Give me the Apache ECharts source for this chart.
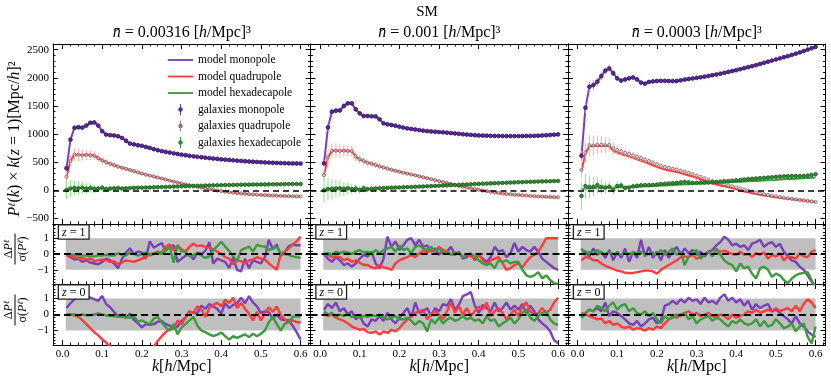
<!DOCTYPE html>
<html>
<head>
<meta charset="utf-8">
<script src="https://cdn.jsdelivr.net/npm/echarts@6/dist/echarts.min.js"></script>
<style>
  html, body { margin: 0; padding: 0; background: #fff; }
  #chart { width: 831px; height: 379px; }
</style>
</head>
<body>
<div id="chart"></div>
<script>
// wavenumber bins
const k = [0.01,0.02,0.03,0.04,0.05,0.06,0.07,0.08,0.09,0.10,
  0.11,0.12,0.13,0.14,0.15,0.16,0.17,0.18,0.19,0.20,
  0.21,0.22,0.23,0.24,0.25,0.26,0.27,0.28,0.29,0.30,
  0.31,0.32,0.33,0.34,0.35,0.36,0.37,0.38,0.39,0.40,
  0.41,0.42,0.43,0.44,0.45,0.46,0.47,0.48,0.49,0.50,
  0.51,0.52,0.53,0.54,0.55,0.56,0.57,0.58,0.59,0.60];

const densities = ['0.00316', '0.001', '0.0003'];
const zLabels = ['1', '0'];
const legendNames = ['model monopole', 'model quadrupole', 'model hexadecapole',
  'galaxies monopole', 'galaxies quadrupole', 'galaxies hexadecapole'];

// tick positions
const kTicks = [0, 0.1, 0.2, 0.3, 0.4, 0.5, 0.6];
const kMinor = [0,0.02,0.04,0.06,0.08,0.1,0.12,0.14,0.16,0.18,0.2,0.22,0.24,0.26,0.28,0.3,
  0.32,0.34,0.36,0.38,0.4,0.42,0.44,0.46,0.48,0.5,0.52,0.54,0.56,0.58,0.6,0.62];
const pTicks = [-500, 0, 500, 1000, 1500, 2000, 2500];
const pMinor = [-600,-500,-400,-300,-200,-100,0,100,200,300,400,500,600,700,800,900,1000,1100,1200,
  1300,1400,1500,1600,1700,1800,1900,2000,2100,2200,2300,2400,2500,2600];
const rTicks = [-1, 0, 1];
const rMinor = [-1.8,-1.6,-1.4,-1.2,-1,-0.8,-0.6,-0.4,-0.2,0,0.2,0.4,0.6,0.8,1,1.2,1.4,1.6,1.8];

// ---- top panels: multipoles times k ----
// n = 0.00316
const monoL = [390,900,1110,1120,1115,1150,1200,1205,1150,1050,
  990,980,975,960,930,880,830,815,800,790,
  770,752,730,712,695,683,670,656,645,633,
  622,612,603,595,587,579,571,564,557,550,
  544,538,532,526,521,516,511,507,503,499,
  495,492,489,486,483,481,479,477,476,475];
const quadL = [240,520,635,630,625,630,625,615,570,530,
  500,470,445,420,400,380,360,340,318,298,
  278,260,243,225,208,190,172,155,137,120,
  105,90,75,60,46,32,18,6,-5,-15,
  -25,-34,-42,-50,-57,-63,-69,-74,-79,-83,
  -87,-91,-94,-97,-100,-103,-105,-107,-109,-111];
const hexL = [5,30,40,35,45,30,40,25,30,45,
  20,30,35,40,30,35,40,42,45,46,
  48,50,52,55,57,60,62,65,67,70,
  72,74,77,79,81,83,85,87,89,90,
  92,93,95,96,98,99,100,101,102,103,
  104,105,106,107,108,109,110,111,111,112];
// n = 0.001
const monoM = [478,1118,1396,1414,1420,1498,1545,1545,1438,1367,
  1320,1320,1315,1313,1261,1190,1172,1160,1148,1130,
  1115,1100,1090,1080,1070,1060,1052,1045,1040,1035,
  1030,1024,1017,1010,1003,996,990,984,979,975,
  972,970,968,966,965,964,963,963,963,963,
  964,965,966,968,970,974,978,983,988,993];
const quadM = [270,585,700,705,700,705,700,695,600,550,
  520,490,470,448,425,405,385,366,348,330,
  312,296,280,265,248,232,215,198,180,162,
  145,128,110,94,78,62,48,34,20,8,
  -4,-16,-28,-38,-48,-57,-65,-72,-78,-84,
  -90,-95,-100,-105,-109,-113,-117,-120,-123,-125];
const hexM = [0,20,25,30,35,25,35,20,30,5,
  35,20,25,30,35,38,42,45,48,50,
  53,56,59,62,65,68,71,74,77,80,
  83,86,90,93,96,100,103,106,110,113,
  116,119,122,125,128,131,134,137,140,143,
  145,148,150,152,155,157,159,161,163,165];
// n = 0.0003
const monoR = [614,1468,1840,1870,1930,2030,2125,2165,2080,1990,
  1950,1970,1990,2005,1970,1915,1895,1925,1935,1942,
  1945,1945,1942,1940,1942,1955,1968,1978,1988,1998,
  2008,2020,2032,2045,2058,2072,2088,2104,2120,2135,
  2152,2170,2188,2206,2225,2245,2265,2285,2305,2325,
  2345,2365,2385,2405,2428,2450,2475,2500,2525,2550];
const quadR = [350,655,785,785,790,785,790,780,700,670,
  645,620,598,572,548,524,500,472,445,415,
  390,370,352,338,325,305,285,263,243,220,
  196,170,142,120,102,85,70,55,38,18,
  -2,-22,-38,-52,-66,-80,-92,-104,-115,-125,
  -134,-143,-151,-159,-167,-175,-183,-191,-200,-210];
const hexR = [15,30,30,35,40,40,45,45,45,50,
  52,55,58,60,63,66,70,73,76,80,
  83,86,90,93,97,100,104,107,111,114,
  118,121,125,128,132,135,139,142,146,149,
  152,156,159,163,166,170,173,177,180,184,
  190,194,198,202,206,210,214,218,222,226];
const quadRGal = [360,665,800,795,805,810,800,805,745,715,
  690,665,645,620,595,570,545,518,490,460,
  435,415,398,382,368,348,328,307,286,263,
  238,212,184,160,140,122,105,88,70,50,
  30,10,-8,-24,-40,-56,-70,-84,-97,-110,
  -121,-132,-143,-153,-162,-171,-180,-189,-198,-208];
const hexRGal = [-100,75,58,62,92,58,47,62,5,75,
  85,40,47,70,78,88,93,92,94,100,
  110,116,121,126,131,140,149,140,132,133,
  135,136,138,145,150,155,160,165,170,175,
  183,192,200,205,210,215,220,226,232,237,
  242,247,250,252,252,252,255,262,272,285];

// error bars on the galaxy multipoles
const errMonoL = [45,50,45,40,38,35,33,30,28,26,24,22,20,19,18,17,16,15,14,13,12,12,11,11,10,10,10,9,9,9,
  9,8,8,8,8,8,7,7,7,7,7,7,7,6,6,6,6,6,6,6,6,6,6,6,6,6,6,6,6,6];
const errQuadL = [80,105,115,110,100,95,88,80,72,65,58,52,47,43,40,37,34,32,30,28,26,25,24,23,22,21,20,19,18,17,
  17,16,16,15,15,14,14,14,13,13,13,12,12,12,12,11,11,11,11,11,10,10,10,10,10,10,10,10,10,10];
const errHexL = [160,150,135,120,105,95,85,76,68,60,54,48,43,39,35,32,30,28,26,24,23,22,21,20,19,18,18,17,17,16,
  16,15,15,15,14,14,14,13,13,13,13,12,12,12,12,12,11,11,11,11,11,11,11,10,10,10,10,10,10,10];
const errMonoM = [60,65,60,55,50,46,42,38,35,32,29,27,25,23,21,20,19,18,17,16,15,15,14,14,13,13,12,12,12,11,
  11,11,11,10,10,10,10,10,10,10,9,9,9,9,9,9,9,9,9,9,9,9,9,9,9,9,9,9,9,9];
const errQuadM = [100,125,135,130,120,110,100,92,84,76,68,62,56,51,47,43,40,37,35,33,31,29,28,27,26,25,24,23,22,21,
  20,20,19,19,18,18,17,17,17,16,16,16,15,15,15,15,14,14,14,14,14,14,14,13,13,13,13,13,13,13];
const errHexM = [220,200,180,160,140,122,106,93,82,72,64,57,51,46,42,38,35,33,31,29,27,26,25,24,23,22,21,20,20,19,
  19,18,18,17,17,17,16,16,16,16,15,15,15,15,15,14,14,14,14,14,14,14,14,14,13,13,13,13,13,13];
const errMonoR = [90,100,95,85,75,68,62,56,51,46,42,38,35,32,30,28,26,25,24,23,22,21,20,20,19,19,18,18,18,17,
  17,17,17,17,17,16,16,16,16,16,16,16,16,16,16,16,16,16,16,16,16,16,16,16,16,16,16,16,16,16];
const errQuadR = [140,175,190,180,165,150,135,120,108,96,86,77,70,64,58,53,49,45,42,39,37,35,33,31,30,29,28,27,26,25,
  24,24,23,23,22,22,21,21,21,20,20,20,20,19,19,19,19,19,18,18,18,18,18,18,18,18,18,18,18,18];
const errHexR = [240,220,195,170,150,130,112,98,86,76,68,61,55,50,46,42,39,36,34,32,30,29,28,27,26,25,24,24,23,23,
  22,22,21,21,21,20,20,20,20,19,19,19,19,19,18,18,18,18,18,18,18,18,18,18,18,18,18,18,18,18];

// ---- residuals  dP / sigma(P) ----
const resL1m = [-0.05,-0.2,-0.35,-0.3,-0.5,-0.4,-0.55,-0.6,-0.65,-0.5,
  -0.3,-0.4,-0.6,-0.9,-0.3,0.1,0.35,0.0,0.15,0.1,
  -0.3,0.8,0.4,0.55,0.7,0.2,0.5,0.55,-0.5,-0.3,
  -0.1,0.0,-0.35,0.1,0.0,0.2,0.75,-0.6,-0.3,-0.4,
  -0.5,-0.9,-0.2,-1.0,-1.1,-0.3,-0.9,-0.4,-0.5,-0.6,
  -0.2,0.9,0.3,0.6,-0.1,0.1,0.5,0.6,0.55,0.55];
const resL1r = [-0.1,-0.1,-0.2,-0.3,-0.25,-0.35,-0.3,-0.45,-0.4,-0.35,
  -0.4,-0.5,-0.45,-0.65,-0.55,-0.4,-0.45,-0.5,-0.4,-0.3,
  -0.2,0.0,0.05,0.15,0.1,0.45,0.6,0.25,0.55,0.3,
  0.15,0.45,0.65,0.5,0.55,0.45,0.4,0.3,0.15,0.0,
  -0.2,-0.3,-0.65,-0.4,-0.45,-0.6,-0.4,-0.35,-0.2,-0.3,
  -0.35,-0.6,-0.8,-1.0,0.0,0.15,0.35,0.6,0.8,1.1];
const resL1g = [0.0,-0.05,-0.05,-0.1,-0.1,-0.1,-0.15,-0.15,-0.1,-0.1,
  -0.05,-0.1,-0.1,0.05,-0.05,-0.1,0.1,0.0,-0.1,0.0,
  0.1,-0.1,0.0,0.1,0.0,0.2,0.47,-0.55,0.55,0.15,
  0.15,-0.15,-0.05,0.05,-0.1,-0.25,-0.15,0.25,0.5,0.78,
  0.47,0.2,-0.15,-0.45,0.25,0.35,0.47,0.15,0.58,0.5,
  0.47,0.25,0.35,0.47,0.05,0.0,-0.05,-0.15,-0.2,-0.25];
const resL0m = [0.4,0.7,0.95,1.1,1.25,1.15,1.05,0.95,0.85,1.15,
  0.65,0.45,0.15,-0.1,0.0,-0.2,0.05,-0.35,-0.55,-0.8,
  -0.6,-0.65,-0.6,-0.45,-0.4,-0.6,-0.7,-0.9,-0.75,-0.4,
  -0.2,0.2,0.1,0.1,0.55,0.35,0.65,0.5,0.35,0.05,
  0.7,0.4,0.6,0.7,1.05,0.7,1.15,0.75,0.5,0.1,
  0.2,0.15,-0.25,0.0,-0.3,-0.35,-0.35,-0.7,-1.1,-1.55];
const resL0r = [0.0,0.0,-0.05,-0.15,-0.35,-0.6,-0.85,-1.1,-1.3,-1.55,
  -1.75,-2.0,-2.3,-2.6,-2.9,-3.1,-3.2,-3.2,-3.0,-2.7,
  -2.4,-2.2,-2.0,-1.65,-1.35,-1.1,-0.9,-0.9,-0.37,-0.6,
  -0.2,0.15,0.1,0.5,0.3,-0.15,0.4,0.6,0.72,0.5,
  0.93,0.72,1.05,0.4,0.72,0.35,0.06,-0.37,0.17,-0.37,
  0.1,0.45,0.17,0.5,-0.05,-0.3,-0.48,-0.37,-0.48,-0.48];
const resL0g = [0.0,0.0,0.0,-0.05,0.0,-0.05,-0.05,0.0,0.06,0.0,
  -0.05,-0.1,-0.12,-0.15,-0.15,-0.18,-0.2,-0.1,-0.45,-0.37,
  -0.5,-0.59,-0.26,-0.15,-0.5,-0.8,-1.0,-0.59,-1.24,-0.8,
  -0.6,-0.37,-0.15,-0.7,-1.0,-1.1,-1.24,-1.35,-1.25,-1.13,
  -1.35,-1.57,-1.35,-1.46,-1.35,-1.24,-1.41,-1.2,-1.35,-1.2,
  -1.0,-0.48,-0.15,-0.6,-1.0,-0.59,-0.48,-0.15,-0.1,-0.15];
const resM1m = [0.0,-0.3,-0.5,-0.2,-0.4,-0.7,-0.6,-0.8,-0.6,-0.3,
  -0.05,-0.15,0.15,-0.6,-0.9,-0.3,1.1,0.45,0.8,0.25,
  0.55,0.9,1.0,0.55,0.9,0.45,0.55,0.15,0.35,-0.05,
  0.25,0.15,0.45,-0.05,0.15,-0.3,-0.2,0.05,-0.4,-0.05,
  -0.3,-0.5,-0.2,0.45,0.15,0.25,-0.2,0.05,0.7,0.15,
  0.45,0.25,0.15,0.45,0.15,-0.3,-0.5,-0.7,-0.9,-1.0];
const resM1r = [0.0,-0.05,-0.2,-0.15,-0.2,-0.4,-0.3,-0.5,-0.4,-0.55,
  -0.7,-0.7,-0.85,-0.9,-0.7,-0.85,-0.9,-1.0,-0.6,-0.4,
  -0.3,-0.2,-0.05,-0.2,0.05,0.2,0.1,0.25,0.15,0.45,
  0.25,0.15,0.0,-0.05,0.1,-0.2,-0.05,-0.15,-0.3,-0.05,
  -0.4,-0.7,-0.4,-0.3,-0.2,-0.6,-1.0,-0.9,-0.7,-0.6,
  -0.85,-0.5,-0.2,-0.05,0.15,0.55,1.0,1.0,1.0,1.0];
const resM1g = [0.0,0.05,-0.05,0.15,0.05,0.15,0.1,0.0,0.15,0.25,
  0.1,0.15,0.0,0.25,0.05,0.25,0.35,0.45,0.15,0.55,
  0.25,0.35,0.05,0.45,0.55,0.35,0.25,0.45,0.15,0.35,
  0.05,0.15,-0.05,0.1,0.05,-0.2,-0.05,0.0,-0.15,-0.4,
  -0.6,-0.7,-0.6,-0.9,-0.4,-0.5,-0.4,-0.6,-0.5,-0.5,
  -1.0,-1.35,-1.45,-1.35,-1.15,-1.55,-1.35,-1.65,-1.85,-1.9];
const resM0m = [0.3,0.65,0.4,0.75,0.2,0.4,0.0,0.2,-0.3,-0.1,
  -0.55,-0.75,-0.3,-0.4,-0.1,-0.4,0.1,-0.3,-0.55,-0.2,
  0.1,0.4,-0.2,0.75,0.1,0.2,0.4,-0.1,0.4,0.2,
  0.65,0.55,0.95,0.3,0.6,1.15,1.25,1.4,0.55,0.1,
  0.6,0.4,0.2,0.75,0.2,0.4,0.75,0.3,0.55,0.3,
  0.65,0.1,0.55,0.2,-0.3,-0.55,-0.75,-1.05,-1.6,-1.8];
const resM0r = [0.1,-0.1,0.0,-0.2,-0.3,-0.4,-0.55,-0.75,-0.85,-0.95,
  -0.9,-1.1,-1.15,-1.05,-1.25,-1.05,-1.15,-0.95,-1.05,-0.85,
  -0.55,-0.3,-0.1,0.1,0.2,0.3,-0.3,0.0,0.2,0.0,
  -0.3,0.2,0.75,0.1,0.5,0.0,0.4,-0.1,0.2,0.5,
  0.3,0.75,-0.1,0.2,0.4,0.1,-0.3,0.0,0.3,-0.1,
  0.5,0.75,0.2,0.0,0.1,0.4,0.1,0.3,0.75,1.05];
const resM0g = [0.2,0.0,0.1,-0.1,0.0,-0.1,0.0,-0.15,-0.1,-0.2,
  -0.1,-0.15,-0.05,-0.1,0.0,-0.2,-0.3,-0.2,-0.1,-0.3,
  -0.3,-0.2,-0.4,-0.65,-0.4,-0.55,-1.05,-0.3,-0.55,-0.2,
  -0.55,-0.3,-0.2,-0.4,-0.3,-0.1,-0.3,-0.2,-0.4,-0.3,
  -0.55,-0.1,-0.4,-0.3,-0.75,-0.55,-0.4,-0.2,-0.55,-0.3,
  0.1,0.3,-0.2,-0.4,-0.1,0.1,0.2,-0.3,-0.55,-0.65];
const resR1m = [0.25,0.15,-0.15,0.35,-0.05,0.15,-0.25,0.25,-0.4,0.15,
  -0.25,0.35,-0.5,0.15,-0.25,0.9,-0.15,0.45,-0.25,0.15,
  -0.4,0.25,-0.25,0.15,0.45,-0.05,0.35,0.05,0.25,-0.05,
  0.15,-0.15,0.15,0.25,0.55,0.75,1.1,0.9,0.55,0.65,
  0.45,0.55,0.25,0.65,0.75,0.9,0.45,0.65,0.75,0.45,
  0.65,0.15,-0.15,-0.4,-0.5,-0.8,-1.0,-1.35,-1.75,-2.1];
const resR1r = [-0.4,-0.2,-0.25,-0.4,-0.4,-0.6,-0.75,-0.85,-0.95,-1.05,
  -1.1,-1.2,-1.2,-1.2,-1.15,-1.1,-1.05,-1.05,-1.1,-1.25,
  -1.0,-0.85,-0.7,-0.55,-0.4,-0.2,-0.15,-0.2,-0.05,-0.3,
  -0.15,0.0,0.15,-0.05,0.25,0.15,0.2,0.1,0.0,-0.05,
  0.15,-0.05,0.0,-0.2,0.05,-0.05,0.1,-0.3,-0.05,-0.15,
  0.05,-0.4,-0.15,-0.2,-0.3,0.05,-0.15,-0.2,0.15,0.25];
const resR1g = [0.35,-0.05,0.15,-0.05,0.25,0.05,0.0,0.1,0.0,0.05,
  -0.05,0.05,0.0,0.1,0.05,0.15,-0.05,0.0,0.1,-0.05,
  0.25,-0.05,0.15,0.35,-0.05,0.15,-0.7,-0.15,0.05,0.25,
  -0.3,-0.05,0.15,-0.15,0.35,-0.05,-0.4,-0.6,-0.7,-1.1,
  -0.6,-0.9,-0.8,-1.25,-1.55,-0.9,-0.8,-1.0,-1.45,-1.25,
  -1.35,-1.65,-1.85,-1.55,-1.35,-1.25,-1.2,-1.15,-1.65,-2.1];
const resR0m = [-0.2,0.1,0.3,0.2,0.4,0.2,0.75,-0.1,0.2,0.1,
  -0.1,-0.3,-0.55,-0.65,-0.4,-0.75,-0.55,-0.3,-0.2,-0.55,
  -0.4,0.55,0.65,0.85,0.65,0.95,0.75,1.05,0.85,0.95,
  0.65,1.05,0.75,0.85,0.65,1.05,1.25,0.85,1.05,0.75,
  0.95,0.55,0.85,0.3,0.65,0.4,0.55,0.65,0.2,0.3,
  0.1,-0.1,-0.3,-0.55,-0.1,-0.55,-0.75,-1.05,-1.25,-1.4];
const resR0r = [0.1,0.0,-0.1,-0.2,-0.3,-0.25,-0.55,-0.4,-0.65,-0.55,
  -0.75,-0.85,-0.75,-0.95,-0.85,-0.9,-1.0,-0.85,-0.95,-0.75,
  -0.85,-0.55,-0.3,-0.1,-0.2,0.0,0.1,0.2,0.0,0.1,
  -0.1,0.0,0.1,-0.1,-0.2,0.0,-0.1,-0.3,0.0,-0.2,
  -0.1,0.0,0.2,0.1,0.3,0.1,0.2,0.3,0.2,0.4,
  0.2,0.3,0.4,0.2,0.55,0.2,0.65,0.95,0.75,0.4];
const resR0g = [-0.2,0.1,0.3,0.2,0.55,0.4,0.2,0.55,0.75,0.3,
  0.55,0.65,0.2,0.4,0.1,0.0,0.2,-0.1,0.1,-0.3,
  -0.55,-0.1,-0.3,-0.2,0.0,-0.1,0.1,-0.3,-0.1,-0.55,
  -0.3,-0.2,-0.1,-0.4,-0.2,-0.3,-0.55,-0.75,-0.4,-0.55,
  -0.3,-0.55,-0.65,-0.55,-0.3,-0.75,-0.4,-0.75,-0.65,-0.3,
  -0.55,-0.85,-0.75,-0.55,-1.05,-0.75,-0.55,-1.4,-1.8,-0.75];

// ---- layout & style ----
const COLS = [53, 310.5, 568];
const COLW = 257.5;
const ROWS = [44, 224, 284];
const ROWH = [180, 60, 61];
const KRANGE = [-0.024, 0.625];
const PRANGE = [-600, 2600];
const RRANGE = [-1.9, 1.9];
const FONT = '"Liberation Serif", "DejaVu Serif", serif';

const lineColors = ['#7a3fba', '#ff3b3b', '#3a9c3a'];
const markFill = ['#5a2897', 'rgba(255,190,190,0.35)', '#2f8f2f'];
const markEdge = ['#34155e', '#6a6a6a', '#1a561a'];
const markSize = [1.9, 1.6, 1.8];
const barColors = ['#b898dc', '#ffb0b0', '#8fea8f'];
const legendColors = ['#5a2897', '#9a7070', '#2f8f2f'];

const panels = [
  {model: [monoL, quadL, hexL], gal: [monoL, quadL, hexL], err: [errMonoL, errQuadL, errHexL],
   res: [[resL1m, resL1r, resL1g], [resL0m, resL0r, resL0g]]},
  {model: [monoM, quadM, hexM], gal: [monoM, quadM, hexM], err: [errMonoM, errQuadM, errHexM],
   res: [[resM1m, resM1r, resM1g], [resM0m, resM0r, resM0g]]},
  {model: [monoR, quadR, hexR], gal: [monoR, quadRGal, hexRGal], err: [errMonoR, errQuadR, errHexR],
   res: [[resR1m, resR1r, resR1g], [resR0m, resR0r, resR0g]]}
];

const grids = [], xAxes = [], yAxes = [], series = [];

function minusFmt(v) {
  return v < 0 ? '\u2212' + Math.abs(v) : String(v);
}

function axis(gi, pos, range, ticks, len, major, label) {
  return {
    type: 'value', gridIndex: gi, position: pos, min: range[0], max: range[1],
    axisLine: {show: major, onZero: false, lineStyle: {color: '#000', width: 1}},
    axisTick: {show: true, inside: true, length: len, customValues: ticks,
      lineStyle: {color: '#000', width: 1}},
    axisLabel: label ? Object.assign({show: true, customValues: ticks, color: '#000',
      fontFamily: FONT, fontSize: 11, margin: 4}, label) : {show: false},
    splitLine: {show: false}
  };
}

function galaxyItem(c) {
  return function (params, api) {
    const x = api.value(0), y = api.value(1), e = api.value(2);
    const p = api.coord([x, y]);
    const hi = api.coord([x, y + e]);
    const lo = api.coord([x, y - e]);
    return {
      type: 'group',
      children: [
        {type: 'line', shape: {x1: p[0], y1: hi[1], x2: p[0], y2: lo[1]},
         style: {stroke: barColors[c], lineWidth: 1.1}},
        {type: 'circle', shape: {cx: p[0], cy: p[1], r: markSize[c]},
         style: {fill: markFill[c], stroke: markEdge[c], lineWidth: 0.8}}
      ]
    };
  };
}

for (let r = 0; r < 3; r++) {
  for (let c = 0; c < 3; c++) {
    const gi = grids.length;
    grids.push({left: COLS[c], top: ROWS[r], width: COLW, height: ROWH[r],
      outerBoundsMode: 'none', containLabel: false});
    const yr = r === 0 ? PRANGE : RRANGE;
    const yMaj = r === 0 ? pTicks : rTicks;
    const yMin = r === 0 ? pMinor : rMinor;
    const xLab = r === 2 ? {formatter: v => v.toFixed(1)} : null;
    const yLab = c === 0 ? {formatter: minusFmt} : null;
    xAxes.push(axis(gi, 'bottom', KRANGE, kTicks, 5, true, xLab));
    xAxes.push(axis(gi, 'bottom', KRANGE, kMinor, 2.5, false, null));
    xAxes.push(axis(gi, 'top', KRANGE, kTicks, 5, true, null));
    xAxes.push(axis(gi, 'top', KRANGE, kMinor, 2.5, false, null));
    yAxes.push(axis(gi, 'left', yr, yMaj, 5, true, yLab));
    yAxes.push(axis(gi, 'left', yr, yMin, 2.5, false, null));
    yAxes.push(axis(gi, 'right', yr, yMaj, 5, true, null));
    yAxes.push(axis(gi, 'right', yr, yMin, 2.5, false, null));
    const xi = gi * 4, yi = gi * 4;
    const P = panels[c];

    if (r === 0) {
      for (let m = 0; m < 3; m++) {
        const s = {
          type: 'line', name: legendNames[m], xAxisIndex: xi, yAxisIndex: yi,
          data: k.map((kk, i) => [kk, P.model[m][i]]),
          symbol: 'none', showSymbol: false, clip: true, z: 2,
          lineStyle: {color: lineColors[m], width: 2},
          itemStyle: {color: lineColors[m]}
        };
        if (m === 0) {
          s.markLine = {silent: true, symbol: ['none', 'none'], label: {show: false},
            lineStyle: {color: '#000', type: [6, 4], width: 1.6}, data: [{yAxis: 0}]};
        }
        series.push(s);
      }
      for (let m = 0; m < 3; m++) {
        series.push({
          type: 'custom', name: legendNames[m + 3], xAxisIndex: xi, yAxisIndex: yi,
          data: k.map((kk, i) => [kk, P.gal[m][i], P.err[m][i]]),
          encode: {x: 0, y: 1}, renderItem: galaxyItem(m), clip: true, z: 3,
          itemStyle: {color: legendColors[m]}
        });
      }
    } else {
      const R = P.res[r - 1];
      for (let m = 0; m < 3; m++) {
        const s = {
          type: 'line', name: 'res' + r + c + m, xAxisIndex: xi, yAxisIndex: yi,
          data: k.map((kk, i) => [kk, R[m][i]]),
          symbol: 'none', showSymbol: false, clip: true, z: 2,
          lineStyle: {color: lineColors[m], width: 2.4},
          itemStyle: {color: lineColors[m]}
        };
        if (m === 0) {
          s.markArea = {silent: true, itemStyle: {color: '#bfbfbf'},
            data: [[{xAxis: 0.008, yAxis: -1}, {xAxis: 0.6, yAxis: 1}]]};
          s.markLine = {silent: true, symbol: ['none', 'none'], label: {show: false},
            lineStyle: {color: '#000', type: [7, 4], width: 2.2}, data: [{yAxis: 0}]};
        }
        series.push(s);
      }
    }
  }
}

// ---- text ----
const rich = {
  i: {fontStyle: 'italic', fontFamily: FONT, fontSize: 16},
  s: {fontStyle: 'italic', fontFamily: FONT, fontSize: 10, verticalAlign: 'top'}
};
const smallRich = {
  i: {fontStyle: 'italic', fontFamily: FONT, fontSize: 12},
  s: {fontStyle: 'italic', fontFamily: FONT, fontSize: 8, verticalAlign: 'top'}
};
const graphic = [];
graphic.push({type: 'text', x: 427, y: 12, style: {text: 'SM', fontFamily: FONT, fontSize: 15,
  fill: '#000', align: 'center', verticalAlign: 'middle'}});
densities.forEach((d, c) => {
  graphic.push({type: 'text', x: COLS[c] + COLW / 2, y: 33, style: {
    text: '{i|n\u0304} = ' + d + ' [{i|h}/Mpc]\u00b3', fontFamily: FONT, fontSize: 16,
    fill: '#000', align: 'center', verticalAlign: 'middle', rich: rich}});
  graphic.push({type: 'text', x: COLS[c] + COLW / 2, y: 367, style: {
    text: '{i|k}[{i|h}/Mpc]', fontFamily: FONT, fontSize: 16,
    fill: '#000', align: 'center', verticalAlign: 'middle', rich: rich}});
  for (let r = 1; r < 3; r++) {
    graphic.push({type: 'text', x: COLS[c] + 6, y: ROWS[r] + 1.5, z: 100, style: {
      text: '{i|z} = ' + zLabels[r - 1], fontFamily: FONT, fontSize: 12, fill: '#000',
      backgroundColor: '#fff', borderColor: '#222', borderWidth: 1.3, padding: [1, 3, 0, 3],
      rich: smallRich}});
  }
});
graphic.push({type: 'text', x: 15, y: 139, rotation: Math.PI / 2, style: {
  text: '{i|P}{s|\u2113}({i|k}) \u00d7 {i|k}({i|z} = 1)[Mpc/{i|h}]\u00b2', fontFamily: FONT, fontSize: 16,
  fill: '#000', align: 'center', verticalAlign: 'middle', rich: rich}});
[249, 310].forEach(cy => {
  graphic.push({type: 'group', x: 15, y: cy, rotation: Math.PI / 2, children: [
    {type: 'text', x: 0, y: -6.5, style: {text: '\u0394{i|P}{s|\u2113}', fontFamily: FONT, fontSize: 12,
      fill: '#000', align: 'center', verticalAlign: 'middle', rich: smallRich}},
    {type: 'line', shape: {x1: -15.5, y1: 0, x2: 15.5, y2: 0}, style: {stroke: '#000', lineWidth: 1}},
    {type: 'text', x: 0, y: 7.5, style: {text: '\u03c3({i|P}{s|\u2113})', fontFamily: FONT, fontSize: 12,
      fill: '#000', align: 'center', verticalAlign: 'middle', rich: smallRich}}
  ]});
});

const LINE_ICON = 'path://M0,0H30V2.2H0Z';
const ERR_ICON = 'path://M4.5,0H5.5V12H4.5Z M7.5,6A2.5,2.5,0,1,1,2.5,6A2.5,2.5,0,1,1,7.5,6Z';

const option = {
  animation: false,
  backgroundColor: '#fff',
  grid: grids,
  xAxis: xAxes,
  yAxis: yAxes,
  legend: {
    left: 168, top: 54, orient: 'vertical', padding: 0, itemWidth: 25, itemHeight: 11, itemGap: 4.5,
    selectedMode: false,
    textStyle: {fontFamily: FONT, fontSize: 11.5, color: '#000'},
    data: legendNames.map((n, i) => ({name: n, icon: i < 3 ? LINE_ICON : ERR_ICON}))
  },
  graphic: graphic,
  series: series
};

const chart = echarts.init(document.getElementById('chart'));
chart.setOption(option);
</script>
</body>
</html>
